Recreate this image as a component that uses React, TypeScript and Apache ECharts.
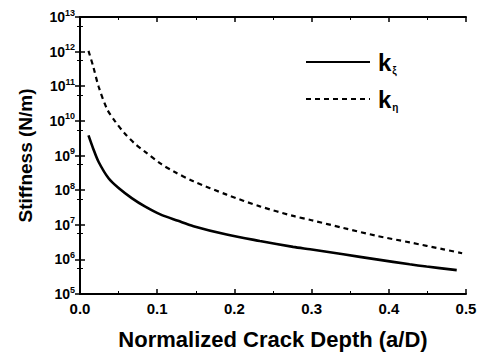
import React, { useEffect, useRef } from "react";
import * as echarts from "echarts";

const kXiX = [0.011, 0.017, 0.024, 0.037, 0.05, 0.067, 0.084, 0.104, 0.127, 0.147, 0.19, 0.233, 0.276, 0.298, 0.341, 0.384, 0.427, 0.449, 0.488];
const kXiY = [3.8e9, 1.6e9, 6.6e8, 2.2e8, 1.15e8, 5.9e7, 3.4e7, 2.0e7, 1.3e7, 9.1e6, 5.2e6, 3.4e6, 2.3e6, 1.95e6, 1.4e6, 1.0e6, 7.2e5, 6.2e5, 4.9e5];
const kEtaX = [0.011, 0.017, 0.024, 0.035, 0.045, 0.058, 0.071, 0.084, 0.104, 0.121, 0.147, 0.19, 0.233, 0.276, 0.3, 0.341, 0.384, 0.427, 0.471, 0.495];
const kEtaY = [1.05e12, 3.8e11, 1.0e11, 2.2e10, 1.0e10, 4.3e9, 2.2e9, 1.3e9, 5.9e8, 3.5e8, 1.8e8, 7.4e7, 3.4e7, 1.8e7, 1.35e7, 8.1e6, 4.8e6, 3.1e6, 1.95e6, 1.5e6];
const seriesNames = ["kξ", "kη"];

const FONT = "Liberation Sans, Arial, sans-serif";

export default function App() {
  const ref = useRef<HTMLDivElement>(null);
  useEffect(() => {
    const chart = echarts.init(ref.current!, null, { renderer: "svg" });
    const axisCommon = {
      axisLine: { show: true, lineStyle: { color: "#000", width: 2 } },
      axisTick: { show: true, inside: true, length: 5, lineStyle: { color: "#000", width: 1.5 } },
      minorTick: { show: true, splitNumber: 2, length: 3, lineStyle: { color: "#000", width: 1 } },
      splitLine: { show: false },
    };
    chart.setOption({
      animation: false,
      backgroundColor: "#fff",
      grid: { left: 80, right: 19, top: 17, bottom: 58 },
      legend: {
        orient: "vertical",
        left: 300,
        top: 45,
        itemWidth: 64,
        itemHeight: 14,
        itemGap: 12,
        data: seriesNames,
        itemStyle: { opacity: 0 },
        formatter: (name: string) => `{k|k}{s|${name.slice(1)}}`,
        textStyle: {
          rich: {
            k: { fontFamily: FONT, fontWeight: "bold", fontSize: 24, color: "#000", padding: [0, 0, 0, 3] },
            s: { fontFamily: FONT, fontWeight: "bold", fontSize: 10, color: "#000", verticalAlign: "bottom", padding: [16, 0, 0, 1] },
          },
        },
      },
      xAxis: [
        {
          type: "value",
          min: 0,
          max: 0.5,
          interval: 0.1,
          position: "bottom",
          ...axisCommon,
          axisLabel: { fontFamily: FONT, fontWeight: "bold", fontSize: 15, color: "#000", margin: 7, formatter: (v: number) => v.toFixed(1) },
          name: "Normalized Crack Depth (a/D)",
          nameLocation: "middle",
          nameGap: 34,
          nameTextStyle: { fontFamily: FONT, fontWeight: "bold", fontSize: 22, color: "#000" },
        },
        {
          type: "value",
          min: 0,
          max: 0.5,
          interval: 0.1,
          position: "top",
          ...axisCommon,
          axisLabel: { show: false },
        },
      ],
      yAxis: [
        {
          type: "log",
          logBase: 10,
          min: 1e5,
          max: 1e13,
          position: "left",
          ...axisCommon,
          axisLabel: {
            margin: 5,
            formatter: (v: number) => `{b|10}{s|${Math.round(Math.log10(v))}}`,
            rich: {
              b: { fontFamily: FONT, fontWeight: "bold", fontSize: 14, color: "#000" },
              s: { fontFamily: FONT, fontWeight: "bold", fontSize: 9, color: "#000", verticalAlign: "top", padding: [0, 0, 9, 0] },
            },
          },
          name: "Stiffness (N/m)",
          nameLocation: "middle",
          nameGap: 45,
          nameTextStyle: { fontFamily: FONT, fontWeight: "bold", fontSize: 19, color: "#000" },
        },
        {
          type: "log",
          logBase: 10,
          min: 1e5,
          max: 1e13,
          position: "right",
          ...axisCommon,
          axisLabel: { show: false },
        },
      ],
      series: [
        {
          name: seriesNames[0],
          type: "line",
          smooth: 0.3,
          symbol: "none",
          data: kXiX.map((x, i) => [x, kXiY[i]]),
          lineStyle: { color: "#000", width: 2.6 },
          itemStyle: { color: "#000" },
        },
        {
          name: seriesNames[1],
          type: "line",
          smooth: 0.3,
          symbol: "none",
          data: kEtaX.map((x, i) => [x, kEtaY[i]]),
          lineStyle: { color: "#000", width: 2.2, type: [5, 4] },
          itemStyle: { color: "#000" },
        },
      ],
    });
    return () => chart.dispose();
  }, []);
  return <div ref={ref} style={{ width: 485, height: 355, position: "absolute", left: 0, top: 0 }} />;
}
